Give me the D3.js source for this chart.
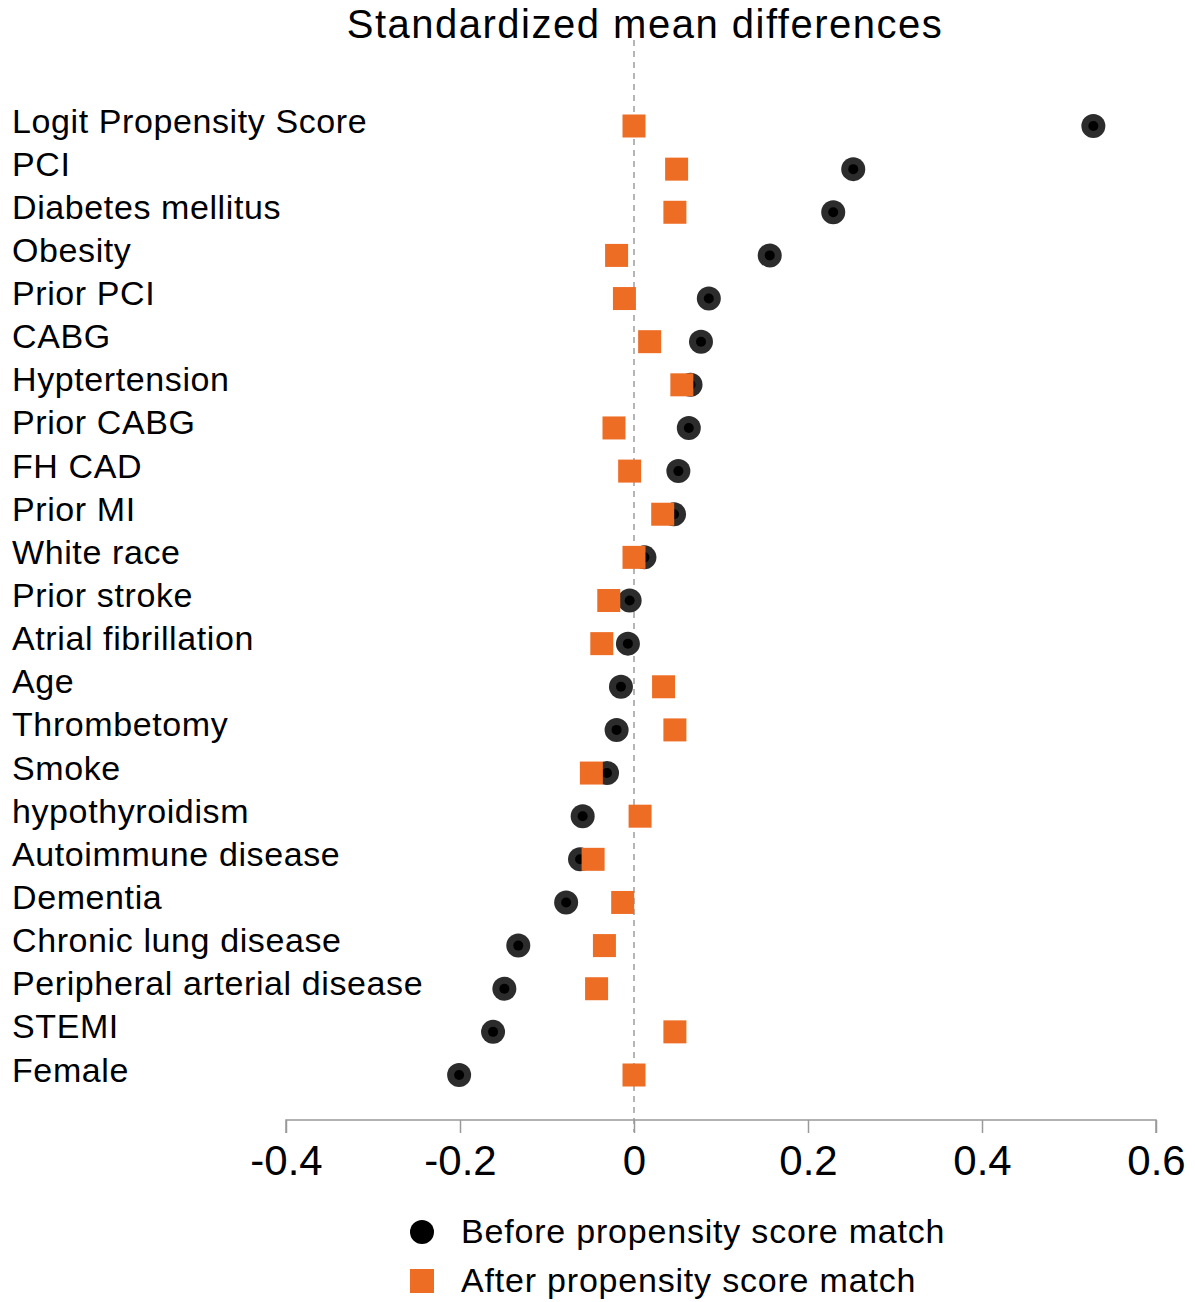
<!DOCTYPE html>
<html>
<head>
<meta charset="utf-8">
<script src="https://cdn.jsdelivr.net/npm/d3@7"></script>
<style>
  body { margin: 0; background: #fff; }
  text { font-family: "Liberation Sans", Arial, sans-serif; fill: #000; }
</style>
</head>
<body>
<div class="canvas"></div>
<script>
const variables = [
  'Logit Propensity Score', 'PCI', 'Diabetes mellitus', 'Obesity', 'Prior PCI',
  'CABG', 'Hyptertension', 'Prior CABG', 'FH CAD', 'Prior MI', 'White race',
  'Prior stroke', 'Atrial fibrillation', 'Age', 'Thrombetomy', 'Smoke',
  'hypothyroidism', 'Autoimmune disease', 'Dementia', 'Chronic lung disease',
  'Peripheral arterial disease', 'STEMI', 'Female'
];
const before = [
  0.528, 0.252, 0.229, 0.156, 0.086, 0.077, 0.065, 0.063, 0.051, 0.046, 0.012,
  -0.005, -0.007, -0.015, -0.020, -0.031, -0.059, -0.062, -0.078, -0.133,
  -0.149, -0.162, -0.201
];
const after = [
  0.000, 0.049, 0.047, -0.020, -0.011, 0.018, 0.055, -0.023, -0.005, 0.033, 0.000,
  -0.029, -0.037, 0.034, 0.047, -0.049, 0.007, -0.047, -0.013, -0.034,
  -0.043, 0.047, 0.000
];
const xTicks = [-0.4, -0.2, 0, 0.2, 0.4, 0.6];
const legendLabels = ['Before propensity score match', 'After propensity score match'];

const orange = '#ed6d25';

const svg = d3.select('.canvas')
    .append('svg')
    .attr('width', 1195)
    .attr('height', 1302);

const x = d3.scaleLinear()
    .domain([-0.4, 0.6])
    .range([286, 1156]);

const y = d3.scalePoint()
    .domain(variables)
    .range([126, 1075]);

// title
svg.append('text')
    .attr('x', 645)
    .attr('y', 38)
    .attr('text-anchor', 'middle')
    .style('font-size', '40px')
    .style('letter-spacing', '1.5px')
    .text('Standardized mean differences');

// zero reference line
svg.append('line')
    .attr('x1', x(0)).attr('x2', x(0))
    .attr('y1', 40).attr('y2', 1132)
    .attr('stroke', '#b5b5b5')
    .attr('stroke-width', 2)
    .attr('stroke-dasharray', '6,5');

// x axis
const xAxis = svg.append('g')
    .attr('transform', 'translate(0, 1120)')
    .call(d3.axisBottom(x)
        .tickValues(xTicks)
        .tickSize(13)
        .tickFormat(d => String(d)));

xAxis.select('.domain')
    .attr('stroke', '#999')
    .attr('stroke-width', 1.5)
    .attr('d', `M${x(-0.4)},13V0H${x(0.6)}V13`);
xAxis.selectAll('.tick line')
    .attr('stroke', '#999')
    .attr('stroke-width', 1.5);
xAxis.selectAll('.tick text')
    .attr('y', 55)
    .attr('dy', null)
    .style('font-size', '42px')
    .style('font-family', '"Liberation Sans", Arial, sans-serif')
    .attr('fill', '#000');

// row labels
svg.append('g')
    .selectAll('text')
    .data(variables)
    .enter()
    .append('text')
    .attr('x', 12)
    .attr('y', d => y(d) + 6.5)
    .style('font-size', '34px')
    .style('letter-spacing', '0.6px')
    .text(d => d);

// before: circles
const dots = svg.append('g')
    .selectAll('g')
    .data(variables)
    .enter()
    .append('g')
    .attr('transform', (d, i) => `translate(${x(before[i])}, ${y(d)})`);

dots.append('circle')
    .attr('r', 12)
    .attr('fill', '#2c2c2c');

dots.append('circle')
    .attr('r', 5)
    .attr('fill', '#000');

// after: squares
svg.append('g')
    .selectAll('rect')
    .data(variables)
    .enter()
    .append('rect')
    .attr('x', (d, i) => x(after[i]) - 11.5)
    .attr('y', d => y(d) - 11.5)
    .attr('width', 23)
    .attr('height', 23)
    .attr('fill', orange);

// legend
const legend = svg.append('g');

legend.append('circle')
    .attr('cx', 422)
    .attr('cy', 1232)
    .attr('r', 12)
    .attr('fill', '#000');

legend.append('rect')
    .attr('x', 410)
    .attr('y', 1269)
    .attr('width', 24)
    .attr('height', 24)
    .attr('fill', orange);

legend.selectAll('text')
    .data(legendLabels)
    .enter()
    .append('text')
    .attr('x', 461)
    .attr('y', (d, i) => 1243 + i * 49)
    .style('font-size', '34px')
    .style('letter-spacing', '0.8px')
    .text(d => d);
</script>
</body>
</html>
